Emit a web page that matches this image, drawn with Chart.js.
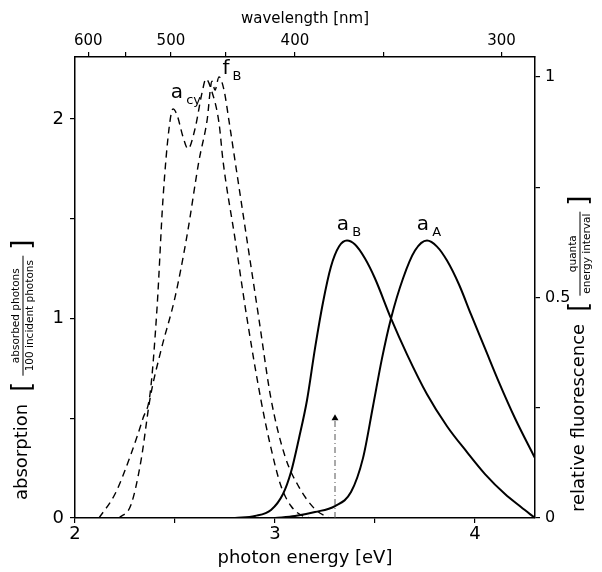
<!DOCTYPE html>
<html>
<head>
<meta charset="utf-8">
<script src="https://cdn.jsdelivr.net/npm/chart.js@4.4.1/dist/chart.umd.min.js"></script>
<style>
  html, body { margin: 0; padding: 0; background: #fff; }
  #wrap { width: 602px; height: 572px; }
</style>
</head>
<body>
<div id="wrap"><canvas id="chart"></canvas></div>
<script>
// absorption of the cyanine (dashed, left axis)
const aCyEnergy = [2.12, 2.2, 2.28, 2.34, 2.375, 2.41, 2.44, 2.47, 2.49, 2.51, 2.54, 2.565, 2.6, 2.635, 2.655, 2.68, 2.72, 2.74, 2.8, 2.86, 2.93, 2.98, 3.03, 3.08, 3.14, 3.2];
const aCyValue  = [0, 0.12, 0.32, 0.5, 0.62, 1.05, 1.6, 1.95, 2.05, 2.02, 1.91, 1.85, 1.95, 2.13, 2.2, 2.15, 1.98, 1.79, 1.4, 1.0, 0.59, 0.35, 0.16, 0.06, 0.01, 0];

// fluorescence f_B (dashed, right axis)
const fBEnergy = [2.22, 2.28, 2.33, 2.375, 2.43, 2.5, 2.56, 2.62, 2.66, 2.685, 2.70, 2.72, 2.745, 2.77, 2.8, 2.86, 2.92, 2.98, 3.05, 3.12, 3.2, 3.27];
const fBValue  = [0, 0.03, 0.13, 0.27, 0.38, 0.5, 0.64, 0.81, 0.9, 0.99, 0.97, 1.0, 0.97, 0.9, 0.81, 0.63, 0.45, 0.27, 0.14, 0.07, 0.02, 0];

// absorption a_B (solid, left axis)
const aBEnergy = [2.8, 2.9, 2.98, 3.04, 3.08, 3.12, 3.16, 3.2, 3.24, 3.28, 3.32, 3.36, 3.4, 3.45, 3.5, 3.58, 3.66, 3.76, 3.86, 3.96, 4.05, 4.15, 4.23, 4.3];
const aBValue  = [0, 0.01, 0.04, 0.12, 0.23, 0.4, 0.59, 0.85, 1.08, 1.26, 1.36, 1.39, 1.37, 1.3, 1.2, 1.0, 0.82, 0.62, 0.46, 0.33, 0.22, 0.12, 0.055, 0];

// absorption a_A (solid, left axis)
const aAEnergy = [3.0, 3.1, 3.2, 3.3, 3.38, 3.44, 3.49, 3.535, 3.58, 3.64, 3.7, 3.76, 3.81, 3.86, 3.92, 3.98, 4.05, 4.12, 4.2, 4.3];
const aAValue  = [0, 0.01, 0.03, 0.06, 0.13, 0.3, 0.56, 0.8, 1.0, 1.2, 1.34, 1.39, 1.36, 1.29, 1.17, 1.02, 0.85, 0.68, 0.5, 0.3];

// excitation arrow
const arrowEnergy = [3.3, 3.3];
const arrowValue  = [0, 0.5];

// ticks
const energyTicks = [2, 2.5, 3, 3.5, 4];
const energyLabels = [2, 3, 4];
const absTicks = [0, 0.5, 1, 1.5, 2];
const absLabels = [0, 1, 2];
const fluoTicks = [0, 0.25, 0.5, 0.75, 1];
const fluoLabels = [0, 0.5, 1];
const wavelengthTicks = [600, 550, 500, 450, 400, 350, 300];
const wavelengthLabels = [600, 500, 400, 300];

const curveLabels = [
  {text: 'a', sub: 'cy', x: 2.51, y: 2.13},
  {text: 'f', sub: 'B', x: 2.755, y: 2.25},
  {text: 'a', sub: 'B', x: 3.34, y: 1.47},
  {text: 'a', sub: 'A', x: 3.74, y: 1.47},
];

const FONT = '"DejaVu Sans", sans-serif';
const toPoints = (xs, ys) => xs.map((x, i) => ({x: x, y: ys[i]}));

// draws text rotated -90deg, pieces laid out upward starting at (cx, y0)
function drawVerticalTitle(ctx, cx, y0, main, num, den, fracWidth) {
  ctx.save();
  ctx.translate(cx, y0);
  ctx.rotate(-Math.PI / 2);
  ctx.fillStyle = '#000';
  ctx.strokeStyle = '#000';
  ctx.textBaseline = 'middle';
  ctx.textAlign = 'left';
  ctx.font = '18px ' + FONT;
  ctx.fillText(main, 0, 0);
  let u = ctx.measureText(main).width + 12;
  ctx.font = '26px ' + FONT;
  ctx.fillText('[', u, 1);
  u += ctx.measureText('[').width + 6;
  ctx.lineWidth = 1;
  ctx.beginPath();
  ctx.moveTo(u, 1);
  ctx.lineTo(u + fracWidth, 1);
  ctx.stroke();
  ctx.font = '10.5px ' + FONT;
  ctx.textAlign = 'center';
  ctx.fillText(num, u + fracWidth / 2, -6);
  ctx.fillText(den, u + fracWidth / 2, 8);
  u += fracWidth + 6;
  ctx.textAlign = 'left';
  ctx.font = '26px ' + FONT;
  ctx.fillText(']', u, 1);
  ctx.restore();
}

const titles = {
  id: 'titles',
  afterDraw(chart) {
    const ctx = chart.ctx;
    const xs = chart.scales.x, ys = chart.scales.y;
    ctx.save();
    ctx.fillStyle = '#000';
    ctx.textAlign = 'center';
    ctx.textBaseline = 'middle';
    ctx.font = '15px ' + FONT;
    ctx.fillText('wavelength [nm]', 305, 19);
    ctx.font = '18px ' + FONT;
    ctx.fillText('photon energy [eV]', 305, 558);

    curveLabels.forEach(l => {
      const px = xs.getPixelForValue(l.x), py = ys.getPixelForValue(l.y);
      ctx.textAlign = 'center';
      ctx.font = '20px ' + FONT;
      ctx.fillText(l.text, px, py);
      const w = ctx.measureText(l.text).width;
      ctx.textAlign = 'left';
      ctx.font = '13px ' + FONT;
      ctx.fillText(l.sub, px + w / 2 + 3, py + 8);
    });
    ctx.restore();

    drawVerticalTitle(ctx, 22, 500, 'absorption', 'absorbed photons', '100 incident photons', 120);
    drawVerticalTitle(ctx, 579, 512, 'relative fluorescence', 'quanta', 'energy interval', 84);
  }
};

function axisStyle(extra) {
  return Object.assign({
    type: 'linear',
    border: {display: true, color: '#000', width: 1.5},
    grid: {drawOnChartArea: false, drawTicks: true, tickLength: 5, color: '#000', lineWidth: 1.2},
  }, extra);
}

new Chart(document.getElementById('chart'), {
  type: 'scatter',
  data: {
    datasets: [
      {
        label: 'a_cy', data: toPoints(aCyEnergy, aCyValue), xAxisID: 'x', yAxisID: 'y',
        showLine: true, borderColor: '#000', borderWidth: 1.4, borderDash: [7, 5],
        pointRadius: 0, cubicInterpolationMode: 'monotone'
      },
      {
        label: 'f_B', data: toPoints(fBEnergy, fBValue), xAxisID: 'x', yAxisID: 'y2',
        showLine: true, borderColor: '#000', borderWidth: 1.4, borderDash: [7, 5],
        pointRadius: 0, cubicInterpolationMode: 'monotone'
      },
      {
        label: 'a_B', data: toPoints(aBEnergy, aBValue), xAxisID: 'x', yAxisID: 'y',
        showLine: true, borderColor: '#000', borderWidth: 2,
        pointRadius: 0, cubicInterpolationMode: 'monotone'
      },
      {
        label: 'a_A', data: toPoints(aAEnergy, aAValue), xAxisID: 'x', yAxisID: 'y',
        showLine: true, borderColor: '#000', borderWidth: 2,
        pointRadius: 0, cubicInterpolationMode: 'monotone'
      },
      {
        label: 'arrow', data: toPoints(arrowEnergy, arrowValue), xAxisID: 'x', yAxisID: 'y',
        showLine: true, borderColor: '#555', borderWidth: 1, borderDash: [6, 3, 1, 3],
        pointRadius: [0, 4], pointStyle: 'triangle', pointBackgroundColor: '#000', pointBorderWidth: 0
      }
    ]
  },
  options: {
    responsive: true,
    maintainAspectRatio: false,
    animation: false,
    layout: {padding: 0},
    plugins: {legend: {display: false}, tooltip: {enabled: false}},
    scales: {
      x: axisStyle({
        position: 'bottom', min: 2, max: 4.3,
        afterBuildTicks: s => { s.ticks = energyTicks.map(v => ({value: v})); },
        afterFit: s => { s.height = 54; },
        ticks: {
          color: '#000', font: {family: FONT, size: 18}, padding: 1, maxRotation: 0, autoSkip: false,
          callback: v => energyLabels.includes(v) ? String(v) : ''
        }
      }),
      x2: axisStyle({
        position: 'top', min: 2, max: 4.3,
        afterBuildTicks: s => { s.ticks = wavelengthTicks.map(l => ({value: 1239.84 / l})); },
        afterFit: s => { s.height = 57; },
        ticks: {
          color: '#000', font: {family: FONT, size: 15}, padding: 2, maxRotation: 0, autoSkip: false,
          callback: (v, i) => wavelengthLabels.includes(wavelengthTicks[i]) ? String(wavelengthTicks[i]) : ''
        }
      }),
      y: axisStyle({
        position: 'left', min: 0, max: 2.31,
        afterBuildTicks: s => { s.ticks = absTicks.map(v => ({value: v})); },
        afterFit: s => { s.width = 75; },
        ticks: {
          color: '#000', font: {family: FONT, size: 18}, padding: 6, autoSkip: false,
          callback: v => absLabels.includes(v) ? String(v) : ''
        }
      }),
      y2: axisStyle({
        position: 'right', min: 0, max: 1.045,
        afterBuildTicks: s => { s.ticks = fluoTicks.map(v => ({value: v})); },
        afterFit: s => { s.width = 67; },
        ticks: {
          color: '#000', font: {family: FONT, size: 16}, padding: 5, autoSkip: false,
          callback: v => fluoLabels.includes(v) ? String(v) : ''
        }
      })
    }
  },
  plugins: [titles]
});
</script>
</body>
</html>
